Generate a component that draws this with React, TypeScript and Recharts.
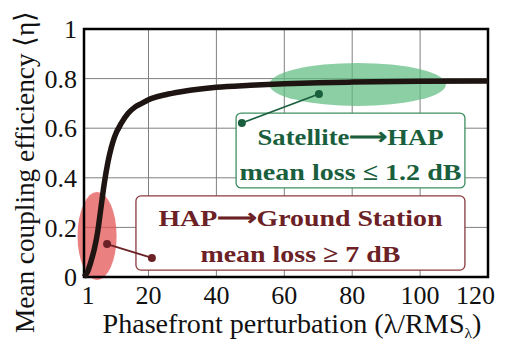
import { LineChart, Line, XAxis, YAxis, CartesianGrid, ReferenceArea, ReferenceLine, ReferenceDot } from "recharts"

const phasefront = [1, 2, 3, 4, 5, 6, 7, 8, 9, 10, 12, 14, 16, 18, 20, 25, 30, 40, 50, 60, 70, 80, 100, 120]
const coupling = [0, 0.02, 0.06, 0.11, 0.18, 0.28, 0.38, 0.46, 0.52, 0.565, 0.62, 0.66, 0.685, 0.7, 0.715, 0.735, 0.748, 0.765, 0.773, 0.779, 0.783, 0.786, 0.789, 0.79]
const xTicks = [1, 20, 40, 60, 80, 100, 120]
const yTicks = [0, 0.2, 0.4, 0.6, 0.8, 1]

const data = phasefront.map((x, i) => ({ x, eta: coupling[i] }))

const serif = "Liberation Serif"
const green = "#1a5f3d"
const red = "#6b2126"

const ellipse = (fill: string) => (props: any) => {
  const { x, y, width, height } = props
  return <ellipse cx={x + width / 2} cy={y + height / 2} rx={width / 2} ry={height / 2} fill={fill} />
}

// lines: [text, baseline fraction of box height, rendered width]
const noteBox = (stroke: string, color: string, lines: [string, number, number][]) => (props: any) => {
  const { x, y, width, height } = props
  const cx = x + width / 2
  return (
    <g>
      <rect x={x} y={y} width={width} height={height} rx={5} ry={5} fill="#fff" stroke={stroke} strokeWidth={1.3} />
      {lines.map(([s, b, w], i) => (
        <text key={i} x={cx} y={y + height * b} textAnchor="middle" textLength={w} lengthAdjust="spacingAndGlyphs"
          style={{ fontFamily: serif, fontWeight: 700, fontSize: 24 }} fill={color}>{s}</text>
      ))}
    </g>
  )
}

const XTick = (p: any) => {
  const last = p.index === xTicks.length - 1
  const first = p.index === 0
  return (
    <text x={p.x + (last ? 7 : first ? 4 : 0)} y={p.y + 25} textAnchor={last ? "end" : "middle"} style={{ fontFamily: serif, fontSize: 26 }} fill="#111">
      {p.payload.value}
    </text>
  )
}

export default function App() {
  return (
    <div style={{ position: "absolute", left: 0, top: 0, background: "#fff" }}>
      <LineChart width={507} height={343} data={data} margin={{ top: 29, right: 19, bottom: 0, left: 0 }}>
        <CartesianGrid stroke="#808080" strokeWidth={1} />
        <XAxis
          dataKey="x"
          type="number"
          domain={[1, 120]}
          ticks={xTicks}
          height={66}
          tickSize={0}
          axisLine={false}
          tick={XTick}
          label={() => (
            <text x={292} y={333} textAnchor="middle" textLength={379} lengthAdjust="spacingAndGlyphs" style={{ fontFamily: serif, fontSize: 27 }} fill="#111">
              Phasefront perturbation (λ/RMS<tspan fontSize={15} dy={5}>λ</tspan><tspan dy={-5}>)</tspan>
            </text>
          )}
        />
        <YAxis
          type="number"
          domain={[0, 1]}
          ticks={yTicks}
          width={84}
          tickSize={0}
          tickMargin={7}
          axisLine={false}
          tick={{ fill: "#111", fontSize: 26, style: { fontFamily: serif } }}
          label={() => (
            <text x={34} y={172} transform="rotate(-90 34 172)" textAnchor="middle" textLength={322} lengthAdjust="spacingAndGlyphs" style={{ fontFamily: serif, fontSize: 28 }} fill="#111">
              Mean coupling efficiency ⟨η⟩
            </text>
          )}
        />
        <ReferenceArea x1={-0.9} x2={10.6} y1={-0.012} y2={0.343} ifOverflow="visible" shape={ellipse("rgba(228,85,85,0.75)")} />
        <ReferenceArea x1={55.6} x2={107.6} y1={0.69} y2={0.863} ifOverflow="visible" shape={ellipse("rgba(95,188,130,0.72)")} />
        <Line type="monotone" dataKey="eta" stroke="#1e1512" strokeWidth={5.5} dot={false} isAnimationActive={false} />
        <ReferenceLine segment={[{ x: 47.5, y: 0.621 }, { x: 70.2, y: 0.738 }]} stroke={green} strokeWidth={1.8} ifOverflow="visible" />
        <ReferenceLine segment={[{ x: 7.8, y: 0.133 }, { x: 21.0, y: 0.077 }]} stroke={red} strokeWidth={1.8} ifOverflow="visible" />
        <ReferenceArea x1={45.8} x2={113.2} y1={0.359} y2={0.661} ifOverflow="visible"
          shape={noteBox("#3f8f62", green, [["Satellite\u27F6HAP", 0.43, 186], ["mean loss \u2264 1.2 dB", 0.9, 222]])} />
        <ReferenceArea x1={16.3} x2={113.2} y1={0.028} y2={0.327} ifOverflow="visible"
          shape={noteBox("#8a3a3e", red, [["HAP\u27F6Ground Station", 0.4, 284], ["mean loss \u2265 7 dB", 0.89, 200]])} />
        <ReferenceDot x={47.5} y={0.621} r={4} fill={green} stroke="none" ifOverflow="visible" />
        <ReferenceDot x={70.2} y={0.738} r={4} fill={green} stroke="none" ifOverflow="visible" />
        <ReferenceDot x={7.8} y={0.133} r={4} fill={red} stroke="none" ifOverflow="visible" />
        <ReferenceDot x={21.0} y={0.077} r={4} fill={red} stroke="none" ifOverflow="visible" />
        <ReferenceArea x1={1} x2={120} y1={0} y2={1} fill="none" stroke="#000" strokeWidth={2.5} ifOverflow="visible" />
      </LineChart>
    </div>
  )
}
